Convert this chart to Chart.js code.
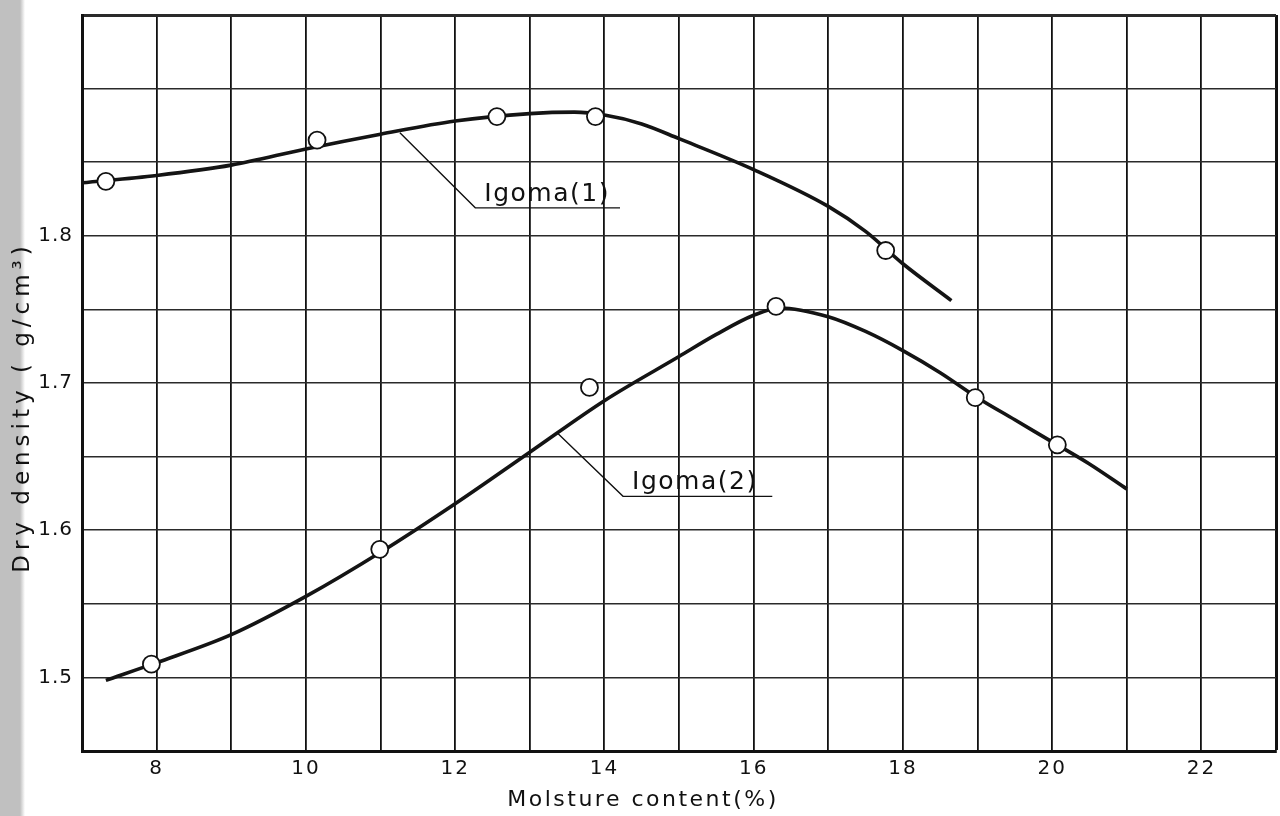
<!DOCTYPE html>
<html>
<head>
<meta charset="utf-8">
<script src="https://cdn.jsdelivr.net/npm/chart.js@4.4.1/dist/chart.umd.min.js"></script>
<style>
html, body { margin: 0; padding: 0; }
body {
  width: 1280px; height: 816px; overflow: hidden;
  background: linear-gradient(to right, #c0c0c0 0px, #c0c0c0 20px, #ffffff 25px);
}
#wrap { position: absolute; left: 0; top: 0; width: 1280px; height: 816px; }
</style>
</head>
<body>
<div id="wrap"><canvas id="c" width="1280" height="816"></canvas></div>
<script>
// ---- Data ----
// Measured points, Igoma(1)
const igoma1Moisture = [7.32, 10.15, 12.56, 13.88, 17.77];
const igoma1Density  = [1.837, 1.865, 1.881, 1.881, 1.790];
// Measured points, Igoma(2)
const igoma2Moisture = [7.93, 10.99, 13.80, 16.30, 18.97, 20.07];
const igoma2Density  = [1.509, 1.587, 1.697, 1.752, 1.690, 1.658];
// Hand-drawn fitted curve, Igoma(1)
const curve1Moisture = [7.0, 8, 9, 10, 11, 12, 13, 13.6, 14, 14.5, 15, 16, 17, 17.5, 18, 18.65];
const curve1Density  = [1.836, 1.841, 1.848, 1.859, 1.869, 1.878, 1.883, 1.884, 1.882, 1.876, 1.866, 1.845, 1.820, 1.803, 1.781, 1.756];
// Hand-drawn fitted curve, Igoma(2)
const curve2Moisture = [7.32, 8, 9, 10, 11, 12, 13, 14, 15, 15.5, 16, 16.35, 17, 17.5, 18, 18.5, 19, 19.5, 20, 20.5, 21.0];
const curve2Density  = [1.498, 1.510, 1.529, 1.555, 1.585, 1.618, 1.653, 1.688, 1.718, 1.733, 1.746, 1.751, 1.745, 1.735, 1.722, 1.707, 1.690, 1.675, 1.660, 1.645, 1.628];
// Tick labels
const xTickLabels = [8, 10, 12, 14, 16, 18, 20, 22];
const yTickLabels = [1.5, 1.6, 1.7, 1.8];
const seriesNames = ['Igoma(1)', 'Igoma(2)'];
const xTitle = 'Molsture content(%)';
const yTitle = 'Dry density ( g/cm³)';

function pairs(xs, ys) { return xs.map((x, i) => ({ x: x, y: ys[i] })); }

// Callout labels (leader line + underline), in data coordinates
const callouts = [
  { text: seriesNames[0], from: [11.26, 1.870], to: [12.27, 1.819], lineEnd: 14.21 },
  { text: seriesNames[1], from: [13.37, 1.666], to: [14.25, 1.623], lineEnd: 16.25 }
];

// letter spacing for axis titles / tick labels, and a small title shift
function styleScale(s, titleSpacing, labelSpacing, titleShift) {
  if (s._styled) return;
  s._styled = true;
  const dt = s.drawTitle, dl = s.drawLabels;
  s.drawTitle = function () {
    const c = this.ctx; c.save();
    c.letterSpacing = titleSpacing;
    c.translate(titleShift[0], titleShift[1]);
    dt.apply(this, arguments);
    c.restore();
  };
  s.drawLabels = function () {
    const c = this.ctx; c.save();
    c.letterSpacing = labelSpacing;
    dl.apply(this, arguments);
    c.restore();
  };
}

const calloutPlugin = {
  id: 'callouts',
  afterDatasetsDraw(chart) {
    const ctx = chart.ctx, xs = chart.scales.x, ys = chart.scales.y;
    ctx.save();
    ctx.strokeStyle = '#111';
    ctx.fillStyle = '#111';
    ctx.lineWidth = 1.4;
    ctx.font = '25px "DejaVu Sans"';
    ctx.letterSpacing = '1.5px';
    ctx.textBaseline = 'alphabetic';
    ctx.textAlign = 'left';
    callouts.forEach(c => {
      const x0 = xs.getPixelForValue(c.from[0]), y0 = ys.getPixelForValue(c.from[1]);
      const x1 = xs.getPixelForValue(c.to[0]), y1 = ys.getPixelForValue(c.to[1]);
      const x2 = xs.getPixelForValue(c.lineEnd);
      ctx.beginPath();
      ctx.moveTo(x0, y0); ctx.lineTo(x1, y1); ctx.lineTo(x2, y1);
      ctx.stroke();
      ctx.fillText(c.text, x1 + 9, y1 - 7);
    });
    ctx.restore();
  }
};

const ctx = document.getElementById('c').getContext('2d');
new Chart(ctx, {
  data: {
    datasets: [
      { type: 'scatter', label: seriesNames[0] + ' data', data: pairs(igoma1Moisture, igoma1Density),
        pointRadius: 8.5, pointBackgroundColor: '#ffffff', pointBorderColor: '#111', pointBorderWidth: 1.8, order: 0 },
      { type: 'scatter', label: seriesNames[1] + ' data', data: pairs(igoma2Moisture, igoma2Density),
        pointRadius: 8.5, pointBackgroundColor: '#ffffff', pointBorderColor: '#111', pointBorderWidth: 1.8, order: 0 },
      { type: 'line', label: seriesNames[0], data: pairs(curve1Moisture, curve1Density),
        borderColor: '#141414', borderWidth: 3.6, pointRadius: 0, fill: false,
        cubicInterpolationMode: 'monotone', order: 1 },
      { type: 'line', label: seriesNames[1], data: pairs(curve2Moisture, curve2Density),
        borderColor: '#141414', borderWidth: 3.6, pointRadius: 0, fill: false,
        cubicInterpolationMode: 'monotone', order: 1 }
    ]
  },
  options: {
    responsive: false,
    animation: false,
    devicePixelRatio: 1,
    layout: { autoPadding: false, padding: { top: 15, right: 4, left: 0, bottom: 0 } },
    plugins: { legend: { display: false }, tooltip: { enabled: false } },
    scales: {
      x: {
        type: 'linear', position: 'bottom', min: 7, max: 23,
        afterFit(s) {
          s.height = 65; s.paddingLeft = 0; s.paddingRight = 0;
          styleScale(s, '2.5px', '2px', [-36, 0]);
        },
        grid: {
          color: '#111',
          lineWidth: c => (c.tick && c.tick.value === 23) ? 3 : 1.8,
          drawTicks: false
        },
        border: { display: true, color: '#111', width: 3 },
        ticks: {
          stepSize: 1, autoSkip: false, maxRotation: 0, padding: 6,
          color: '#111', font: { family: 'DejaVu Sans', size: 20 },
          callback: v => xTickLabels.includes(v) ? String(v) : ''
        },
        title: { display: true, text: xTitle, color: '#111',
          font: { family: 'DejaVu Sans', size: 22 }, padding: { top: 0, bottom: 3 } }
      },
      y: {
        type: 'linear', position: 'left', min: 1.45, max: 1.95,
        afterFit(s) {
          s.width = 82; s.paddingTop = 0; s.paddingBottom = 0;
          styleScale(s, '5px', '1px', [0, 24]);
        },
        grid: {
          color: '#2a2a2a',
          lineWidth: c => (c.tick && Math.abs(c.tick.value - 1.95) < 1e-6) ? 3 : 1.4,
          drawTicks: false
        },
        border: { display: true, color: '#111', width: 3 },
        ticks: {
          stepSize: 0.05, autoSkip: false, padding: 9,
          color: '#111', font: { family: 'DejaVu Sans', size: 20 },
          callback: v => {
            const hit = yTickLabels.find(t => Math.abs(t - v) < 1e-6);
            return hit !== undefined ? hit.toFixed(1) : '';
          }
        },
        title: { display: true, text: yTitle, color: '#111',
          font: { family: 'DejaVu Sans', size: 23 }, padding: { top: 9, bottom: 0 } }
      }
    }
  },
  plugins: [calloutPlugin]
});
</script>
</body>
</html>
